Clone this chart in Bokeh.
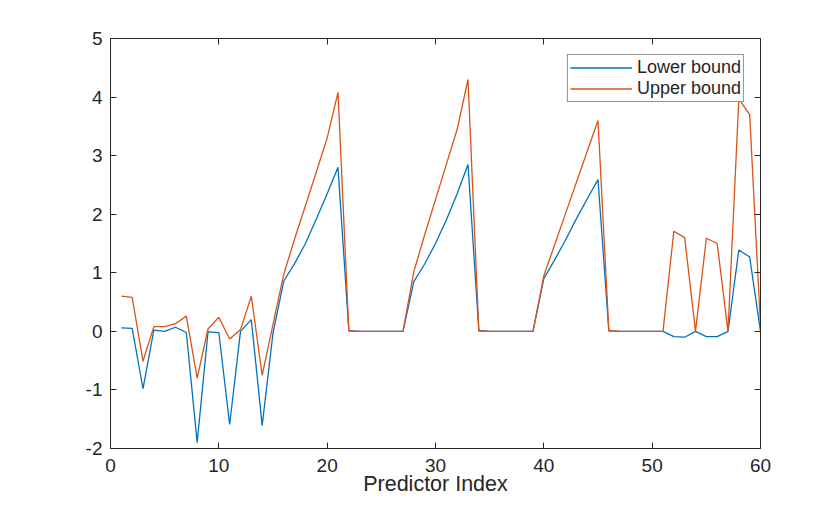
from bokeh.plotting import figure
from bokeh.models import LinearAxis, FixedTicker, Legend, LegendItem
from bokeh.embed import file_html
from bokeh.resources import INLINE

# predictor index and bounds
idx = list(range(1, 61))
lower = [0.06, 0.05, -0.98, 0.02, 0.0, 0.07, -0.02, -1.9, -0.01, -0.02,
         -1.59, 0.0, 0.2, -1.61, -0.03, 0.86, 1.16, 1.5, 1.92, 2.35,
         2.8, 0.01, 0.0, 0.0, 0.0, 0.0, 0.0, 0.85, 1.15, 1.5,
         1.9, 2.35, 2.85, 0.01, 0.0, 0.0, 0.0, 0.0, 0.0, 0.9,
         1.22, 1.56, 1.92, 2.26, 2.59, 0.01, 0.0, 0.0, 0.0, 0.0,
         0.0, -0.09, -0.1, 0.0, -0.09, -0.09, 0.0, 1.39, 1.27, 0.0]
upper = [0.6, 0.58, -0.51, 0.08, 0.08, 0.13, 0.26, -0.8, 0.04, 0.24,
         -0.13, 0.03, 0.6, -0.75, 0.12, 0.98, 1.58, 2.15, 2.72, 3.3,
         4.08, 0.01, 0.0, 0.0, 0.0, 0.0, 0.0, 1.02, 1.65, 2.25,
         2.85, 3.45, 4.3, 0.01, 0.0, 0.0, 0.0, 0.0, 0.0, 0.95,
         1.48, 2.01, 2.54, 3.07, 3.6, 0.01, 0.0, 0.0, 0.0, 0.0,
         0.0, 1.71, 1.6, 0.0, 1.59, 1.5, 0.0, 3.97, 3.7, 0.1]

x_ticks = [0, 10, 20, 30, 40, 50, 60]
y_ticks = [-2, -1, 0, 1, 2, 3, 4, 5]

FONT = "Liberation Sans"
INK = "#262626"
BLUE = "#0072BD"
ORANGE = "#D95319"

p = figure(width=840, height=506, x_range=(0, 60), y_range=(-2, 5),
           output_backend="svg", toolbar_location=None,
           x_axis_location=None, y_axis_location=None,
           min_border_left=110, min_border_right=80,
           min_border_top=38, min_border_bottom=58)
p.grid.visible = False
p.outline_line_color = None
p.background_fill_color = "white"
p.border_fill_color = "white"


def make_axis(ticks, show_labels):
    ax = LinearAxis(ticker=FixedTicker(ticks=ticks))
    ax.axis_line_color = INK
    ax.axis_line_width = 1
    ax.major_tick_line_color = INK
    ax.major_tick_in = 6
    ax.major_tick_out = 0
    ax.minor_tick_line_color = None
    ax.major_label_text_font = FONT
    ax.major_label_text_color = INK
    ax.major_label_text_font_size = "19px"
    if show_labels:
        # plain hyphen for negatives, like the reference
        ax.major_label_overrides = {t: str(t) for t in ticks}
    else:
        ax.major_label_overrides = {t: "" for t in ticks}
        ax.major_label_standoff = 0
    return ax


xb = make_axis(x_ticks, True)
xb.major_label_standoff = 10
xb.axis_label = "Predictor Index"
xb.axis_label_text_font = FONT
xb.axis_label_text_font_size = "21.5px"
xb.axis_label_text_font_style = "normal"
xb.axis_label_text_color = INK
xb.axis_label_standoff = -3
p.add_layout(xb, "below")

yl = make_axis(y_ticks, True)
yl.major_label_standoff = 8
p.add_layout(yl, "left")

p.add_layout(make_axis(x_ticks, False), "above")
p.add_layout(make_axis(y_ticks, False), "right")

r_lo = p.line(idx, lower, line_color=BLUE, line_width=1.3)
r_up = p.line(idx, upper, line_color=ORANGE, line_width=1.3)

legend = Legend(items=[LegendItem(label="Lower bound", renderers=[r_lo]),
                       LegendItem(label="Upper bound", renderers=[r_up])],
                location="top_right")
legend.margin = 16
legend.padding = 2
legend.spacing = 0
legend.glyph_width = 62
legend.glyph_height = 17
legend.label_height = 17
legend.label_standoff = 5
legend.label_text_font = FONT
legend.label_text_font_size = "18px"
legend.label_text_color = INK
legend.border_line_color = INK
legend.border_line_width = 1
legend.background_fill_alpha = 1
p.add_layout(legend)

open("out.html", "w").write(file_html(p, INLINE))
